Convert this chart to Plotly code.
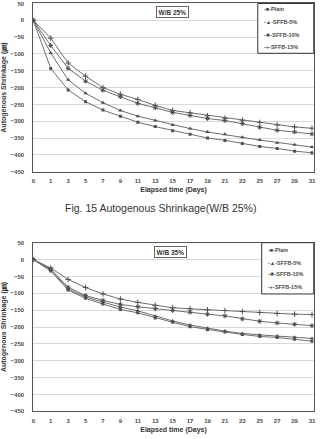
import plotly.graph_objects as go

# ---------------- data ----------------
days = ['0', '1', '3', '5', '7', '9', '11', '13', '15', '17', '19', '21', '23', '25', '27', '29', '31']
series_names = ['Plain', 'SFFB-5%', 'SFFB-10%', 'SFFB-15%']
y_ticks = [50, 0, -50, -100, -150, -200, -250, -300, -350, -400, -450]

wb25_plain = [0, -143, -207, -242, -267, -285, -303, -316, -328, -339, -350, -357, -366, -375, -381, -389, -394]
wb25_sffb5 = [0, -97, -177, -217, -245, -268, -285, -298, -311, -322, -332, -339, -348, -356, -364, -370, -377]
wb25_sffb10 = [0, -75, -143, -181, -208, -227, -247, -260, -274, -283, -292, -298, -307, -318, -327, -332, -338]
wb25_sffb15 = [0, -53, -127, -166, -200, -220, -235, -253, -268, -275, -284, -291, -297, -304, -311, -317, -321]

wb35_plain = [0, -34, -90, -115, -132, -148, -158, -173, -186, -199, -208, -215, -222, -228, -231, -236, -242]
wb35_sffb5 = [0, -31, -87, -111, -126, -141, -152, -168, -182, -194, -204, -212, -219, -224, -227, -230, -234]
wb35_sffb10 = [0, -28, -82, -107, -121, -133, -140, -146, -151, -156, -162, -167, -176, -183, -188, -192, -196]
wb35_sffb15 = [0, -25, -59, -83, -102, -117, -127, -136, -143, -146, -149, -151, -154, -157, -160, -162, -163]

panels = [
    {'label': 'W/B 25%', 'data': [wb25_plain, wb25_sffb5, wb25_sffb10, wb25_sffb15]},
    {'label': 'W/B 35%', 'data': [wb35_plain, wb35_sffb5, wb35_sffb10, wb35_sffb15]},
]
caption = 'Fig. 15 Autogenous Shrinkage(W/B 25%)'

# ---------------- style ----------------
W, H = 320, 439
line_col = '#6e6e6e'
mark_col = '#505050'
frame_col = '#555555'
grid_col = '#d9d9d9'
text_col = '#4a4a4a'
font_main = 'Liberation Sans, Arial, DejaVu Sans, Noto Sans CJK KR'
markers = [
    dict(symbol='square', size=3, color=mark_col),
    dict(symbol='triangle-up', size=4, color=mark_col),
    dict(symbol='asterisk-open', size=4, color=mark_col, line=dict(color=mark_col, width=1)),
    dict(symbol='cross-thin-open', size=4, color=mark_col, line=dict(color=mark_col, width=1)),
]
legend_glyphs = ['-\u25a0-', '-\u25b2-', '-\u2731-', '-+-']

# pixel layout of each panel: (plot top, plot bottom), legend box, label box centre
x_left, x_right = 31.7, 315.7
panel_px = [
    dict(top=0.5, bottom=171, leg=(259, 0.5, 315.7, 51), leg_rows=[6, 19, 32, 44.5], lab=(173, 8.7)),
    dict(top=243, bottom=414, leg=(263, 243, 315.7, 295), leg_rows=[250, 263.5, 275, 288], lab=(171, 252.5)),
]

def px_x(x):
    return x / W

def px_y(y):
    return 1 - y / H

fig = go.Figure()
layout = dict(
    width=W, height=H,
    margin=dict(l=0, r=0, t=0, b=0),
    paper_bgcolor='white', plot_bgcolor='white',
    showlegend=False,
    font=dict(family=font_main, color=text_col),
)
annotations = []
shapes = []

for i, panel in enumerate(panels):
    sfx = '' if i == 0 else str(i + 1)
    p = panel_px[i]
    for name, vals, mk in zip(series_names, panel['data'], markers):
        fig.add_trace(go.Scatter(
            x=days, y=vals, name=name, mode='lines+markers',
            line=dict(color=line_col, width=1),
            marker=mk,
            xaxis='x' + sfx, yaxis='y' + sfx,
        ))
    layout['xaxis' + sfx] = dict(
        domain=[px_x(x_left), px_x(x_right)], anchor='y' + sfx,
        type='category', range=[0, 16.1],
        showgrid=False, showline=True, linecolor=frame_col, linewidth=1, mirror=True,
        ticks='', tickfont=dict(size=6, color=text_col, weight='bold'),
        ticklabelstandoff=3,
        title=dict(text='Elapsed time (Days)', font=dict(size=7, color='#333', weight='bold'), standoff=4),
    )
    layout['yaxis' + sfx] = dict(
        domain=[px_y(p['bottom']), px_y(p['top'])], anchor='x' + sfx,
        range=[-450, 50], tickvals=y_ticks,
        showgrid=True, gridcolor=grid_col, gridwidth=1,
        zeroline=False, showline=True, linecolor=frame_col, linewidth=1, mirror=True,
        ticks='', tickfont=dict(size=6, color=text_col, weight='bold'),
        ticklabelstandoff=7,
        title=dict(text='Autogenous Shrinkage (\u339b)', font=dict(size=7, color='#333', weight='bold'), standoff=4),
    )
    # panel label box
    annotations.append(dict(
        text='<b>' + panel['label'] + '</b>', xref='paper', yref='paper',
        x=px_x(p['lab'][0]), y=px_y(p['lab'][1]), xanchor='center', yanchor='middle',
        showarrow=False, font=dict(size=6.5, color='#333'),
        bordercolor='#666', borderwidth=1, borderpad=1.5, bgcolor='white',
    ))
    # legend box
    lx0, ly0, lx1, ly1 = p['leg']
    shapes.append(dict(type='rect', xref='paper', yref='paper',
                       x0=px_x(lx0), x1=px_x(lx1), y0=px_y(ly1), y1=px_y(ly0),
                       line=dict(color='#333', width=1), fillcolor='white', layer='above'))
    for name, glyph, ry in zip(series_names, legend_glyphs, p['leg_rows']):
        annotations.append(dict(
            text='<b>' + glyph + name + '</b>', xref='paper', yref='paper',
            x=px_x(lx0 + 4), y=px_y(ry), xanchor='left', yanchor='middle',
            showarrow=False, font=dict(size=5.5, color=text_col),
        ))

annotations.append(dict(
    text=caption, xref='paper', yref='paper', x=px_x(161), y=px_y(208),
    xanchor='center', yanchor='middle', showarrow=False,
    font=dict(size=10.5, color='#333', family='Liberation Sans, Arial, Noto Sans CJK KR'),
))

layout['annotations'] = annotations
layout['shapes'] = shapes
fig.update_layout(**layout)
fig.write_html('out.html')
